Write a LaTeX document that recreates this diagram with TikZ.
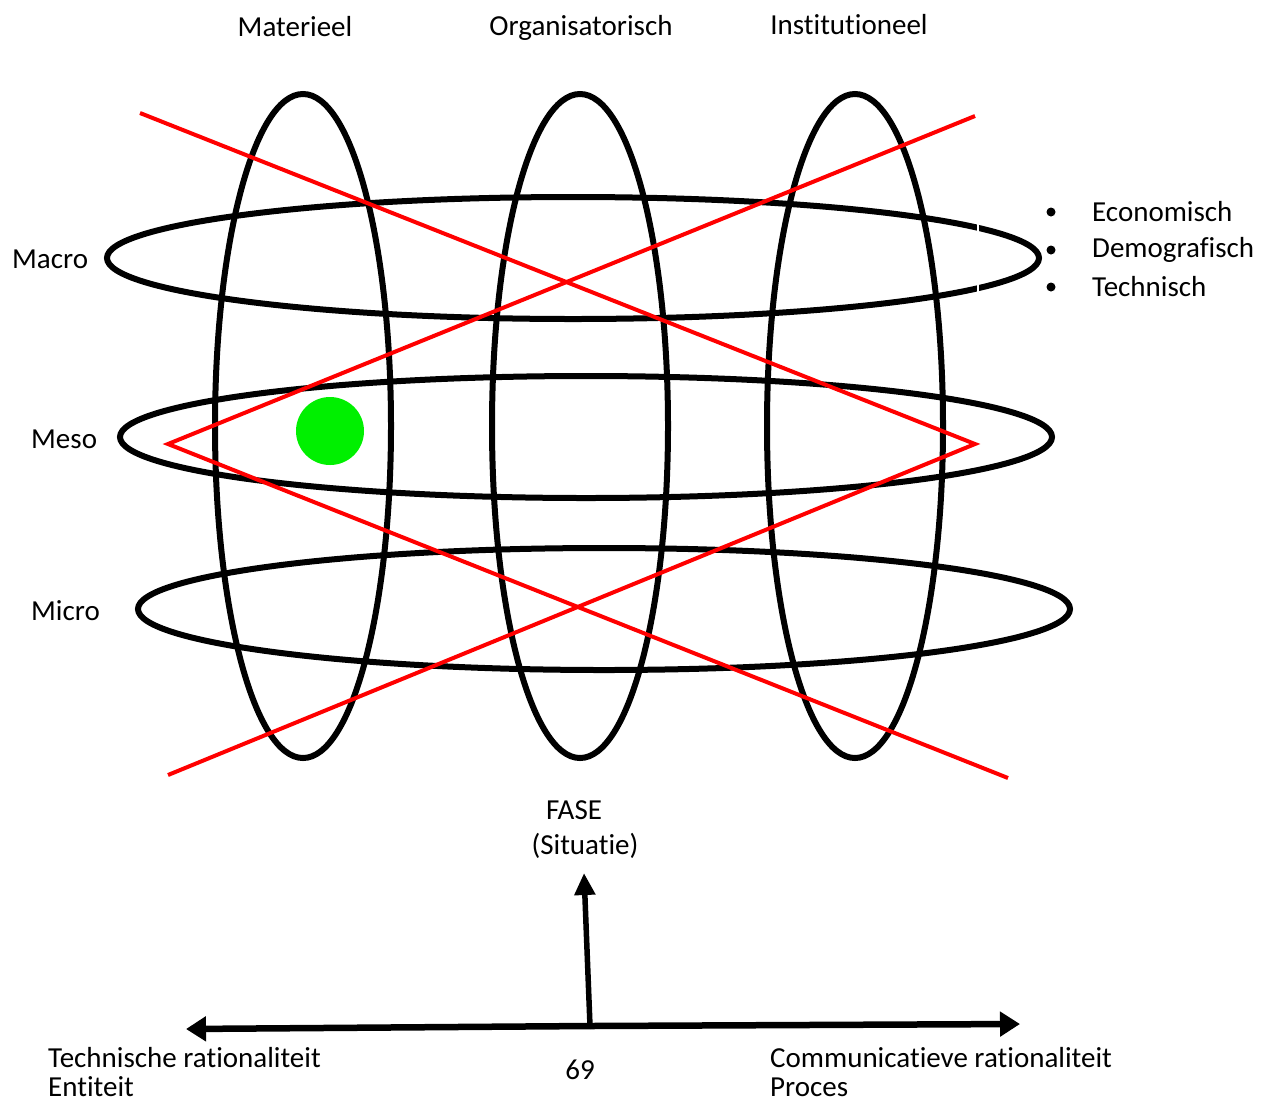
\documentclass[tikz,border=0pt]{standalone}
\usepackage{fontspec}
\setmainfont{Carlito}[RawFeature={-liga;-clig;-dlig}]
\usetikzlibrary{arrows.meta}
\definecolor{dotgreen}{RGB}{0,240,0}
\begin{document}
\begin{tikzpicture}[x=1pt,y=-1pt,
  ring/.style={line width=6pt},
  cross/.style={red,line width=4pt},
  axis/.style={line width=6.5pt,-{Triangle[length=20pt,width=24pt]}},
  lbl/.style={font=\fontsize{29}{35}\selectfont,inner sep=0pt}]
\useasboundingbox (0,0) rectangle (1273,1104);
% columns: materieel, organisatorisch, institutioneel
\foreach \x in {303,580,855}
  \draw[ring] (\x,426) ellipse (88 and 332);
% rows: macro, meso, micro
\foreach \x/\y in {573/258,586/437,604/609}
  \draw[ring] (\x,\y) ellipse (466 and 61);
\draw[white,line width=1.5pt] (978,218) -- (978,236);
\draw[white,line width=1.5pt] (978,280) -- (978,298);
% red cross
\draw[cross] (140,113) -- (975,444) -- (168,775);
\draw[cross] (975,116) -- (168,444) -- (1008,778);
\fill[dotgreen] (330,431) circle (34);
% headings
\node[lbl] (materieel) at (295,27) {Materieel};
\node[lbl] (organisatorisch) at (581,28) {Organisatorisch};
\node[lbl] (institutioneel) at (849,25) {Institutioneel};
\node[lbl,anchor=west] (macro) at (12,259) {Macro};
\node[lbl,anchor=west] (meso) at (31,439) {Meso};
\node[lbl,anchor=west] (micro) at (31,611) {Micro};
% bullet list
\foreach \y/\t/\n in {212/Economisch/eco,250/Demografisch/demo,287/Technisch/tech}{
  \fill (1051,\y) circle (4.5);
  \node[lbl,anchor=west] (\n) at (1092,\y) {\t};
}
\node[lbl] (fase) at (574,810) {FASE};
\node[lbl] (situatie) at (585,846) {(Situatie)};
% axes
\coordinate (origin) at (590,1026);
\coordinate (techend) at (186,1029);
\coordinate (commend) at (1020,1024);
\coordinate (faseend) at (584,873);
\draw[axis] (origin) -- (techend);
\draw[axis] (origin) -- (commend);
\draw[line width=5.5pt,-{Triangle[length=22pt,width=20pt]}] (origin) -- (faseend);
\node[lbl,anchor=west] (techrat) at (48,1058) {Technische rationaliteit};
\node[lbl,anchor=west] (entiteit) at (48,1087) {Entiteit};
\node[lbl] (pagenr) at (580,1070) {69};
\node[lbl,anchor=west] (commrat) at (770,1058) {Communicatieve rationaliteit};
\node[lbl,anchor=west] (proces) at (770,1087) {Proces};
\end{tikzpicture}
\end{document}
